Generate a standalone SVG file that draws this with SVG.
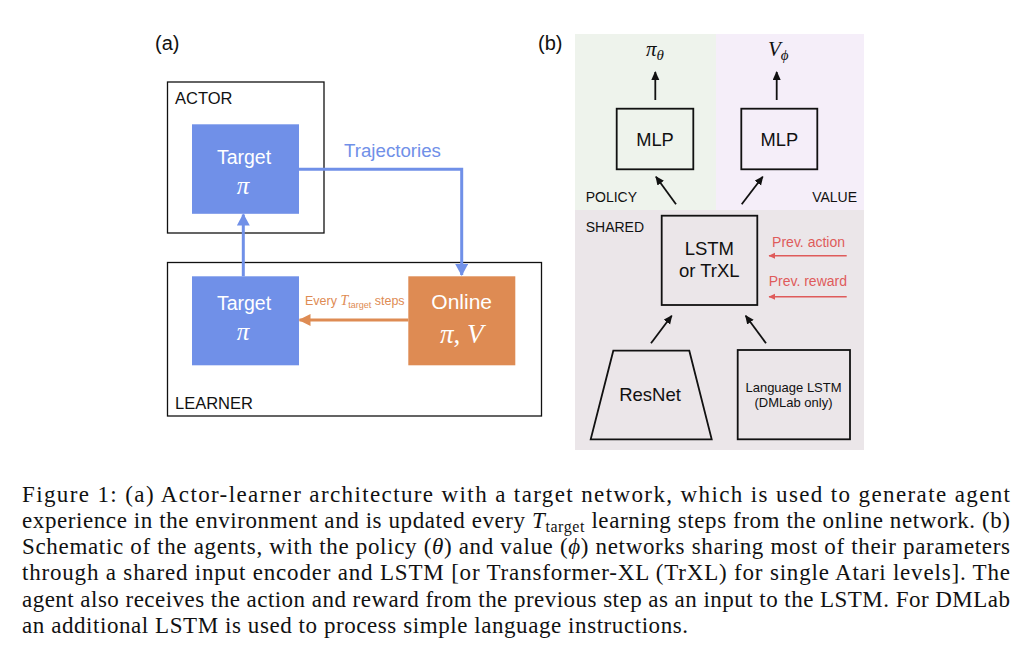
<svg xmlns="http://www.w3.org/2000/svg" width="1032" height="660" viewBox="0 0 1032 660">
<defs>
<style>
.sans{font-family:"Liberation Sans",Arial,sans-serif}
.serif{font-family:"Liberation Serif","Times New Roman",serif}
.frame{fill:none;stroke:#111;stroke-width:1.3}
.box{fill:none;stroke:#111;stroke-width:1.8}
.blk{stroke:#111;stroke-width:1.8;fill:none}
.blue{stroke:#7090e8;stroke-width:3;fill:none}
.orange{stroke:#de8b53;stroke-width:3;fill:none}
.red{stroke:#df5b5b;stroke-width:1.5;fill:none}
.wt{fill:#fff}
.cap{font-family:"Liberation Serif","Times New Roman",serif;font-size:23px;fill:#111}
</style>
<marker id="mBlue" markerUnits="userSpaceOnUse" markerWidth="14" markerHeight="14" refX="11" refY="6.5" orient="auto"><path d="M0,0 L12,6.5 L0,13 Z" fill="#7090e8"/></marker>
<marker id="mOrange" markerUnits="userSpaceOnUse" markerWidth="14" markerHeight="14" refX="11" refY="6" orient="auto"><path d="M0,0 L12,6 L0,12 Z" fill="#de8b53"/></marker>
<marker id="mBlack" markerUnits="userSpaceOnUse" markerWidth="10" markerHeight="10" refX="8" refY="4" orient="auto"><path d="M0,0 L9,4 L0,8 Z" fill="#111"/></marker>
<marker id="mRed" markerUnits="userSpaceOnUse" markerWidth="8" markerHeight="8" refX="6" refY="3" orient="auto"><path d="M0,0 L6.5,3 L0,6 Z" fill="#df5b5b"/></marker>
</defs>
<rect width="1032" height="660" fill="#fff"/>

<!-- Panel (a) -->
<text class="sans" x="155" y="50" font-size="20" fill="#111">(a)</text>
<g id="actor">
<rect class="frame" x="167.5" y="82" width="156.5" height="151"/>
<text class="sans" x="175" y="104" font-size="16.5" fill="#111">ACTOR</text>
</g>
<g id="learner">
<rect class="frame" x="167.5" y="262.5" width="374" height="153.5"/>
<text class="sans" x="175" y="408.5" font-size="16.5" fill="#111">LEARNER</text>
</g>
<g id="target-actor">
<rect x="192" y="124.3" width="107" height="89.5" fill="#7090e8"/>
<text class="sans wt" x="244" y="164" font-size="19.5" text-anchor="middle">Target</text>
<text class="serif wt" x="243" y="193.5" font-size="25" font-style="italic" text-anchor="middle">π</text>
</g>
<g id="target-learner">
<rect x="192" y="276.3" width="107" height="89" fill="#7090e8"/>
<text class="sans wt" x="244" y="310" font-size="19.5" text-anchor="middle">Target</text>
<text class="serif wt" x="243" y="339.5" font-size="25" font-style="italic" text-anchor="middle">π</text>
</g>
<g id="online">
<rect x="408.3" y="276.3" width="107" height="89" fill="#de8b53"/>
<text class="sans wt" x="461.7" y="309.3" font-size="21" text-anchor="middle">Online</text>
<text class="serif wt" x="461.7" y="343" font-size="27" text-anchor="middle"><tspan font-style="italic">π</tspan>, <tspan font-style="italic">V</tspan></text>
</g>

<!-- Panel (b) -->
<text class="sans" x="538" y="50" font-size="20" fill="#111">(b)</text>
<g id="regions">
<rect x="575" y="34" width="141" height="176" fill="#eef3ec"/>
<rect x="716" y="34" width="148" height="176" fill="#f5eef9"/>
<rect x="575" y="210" width="289" height="240" fill="#ebe6e9"/>
<text class="sans" x="585.7" y="201.7" font-size="14" fill="#111">POLICY</text>
<text class="sans" x="857" y="201.7" font-size="14" fill="#111" text-anchor="end">VALUE</text>
<text class="sans" x="585.7" y="231.7" font-size="14" fill="#111">SHARED</text>
</g>
<g id="mlp-policy">
<rect class="box" x="616.7" y="108.7" width="76.6" height="60.6"/>
<text class="sans" x="655" y="145.5" font-size="18.3" fill="#111" text-anchor="middle">MLP</text>
</g>
<g id="mlp-value">
<rect class="box" x="741.3" y="108.7" width="76" height="60.6"/>
<text class="sans" x="779.3" y="145.5" font-size="18.3" fill="#111" text-anchor="middle">MLP</text>
</g>
<g id="pi-theta">
<text class="serif" x="646" y="56" font-size="21" fill="#111" font-style="italic">π<tspan font-size="15" dy="4">θ</tspan></text>
</g>
<g id="v-phi">
<text class="serif" x="768" y="56" font-size="21" fill="#111" font-style="italic">V<tspan font-size="15" dy="4">ϕ</tspan></text>
</g>
<g id="lstm">
<rect class="box" x="661.7" y="215.7" width="95.6" height="89.3"/>
<text class="sans" x="709.3" y="255" font-size="18.5" fill="#111" text-anchor="middle">LSTM</text>
<text class="sans" x="709.3" y="276.7" font-size="18.5" fill="#111" text-anchor="middle">or TrXL</text>
</g>
<g id="resnet">
<path class="box" d="M613.3,350.7 L689.3,350.7 L711.7,439.3 L590.7,439.3 Z"/>
<text class="sans" x="650" y="400.5" font-size="18.5" fill="#111" text-anchor="middle">ResNet</text>
</g>
<g id="language-lstm">
<rect class="box" x="737.7" y="350" width="112.3" height="89.3"/>
<text class="sans" x="793.5" y="391.7" font-size="13" fill="#111" text-anchor="middle">Language LSTM</text>
<text class="sans" x="793.5" y="407" font-size="13" fill="#111" text-anchor="middle">(DMLab only)</text>
</g>
<g id="prev-labels">
<text class="sans" x="845" y="246.7" font-size="14" fill="#df5b5b" text-anchor="end">Prev. action</text>
<text class="sans" x="847" y="285.7" font-size="14" fill="#df5b5b" text-anchor="end">Prev. reward</text>
</g>

<g id="connectors">
<path class="blue" d="M299,169.3 H461.7 V275" marker-end="url(#mBlue)"/>
<text class="sans" x="344" y="157" font-size="18.7" fill="#7090e8">Trajectories</text>
<path class="blue" d="M243.3,276.3 V214.5" marker-end="url(#mBlue)"/>
<path class="orange" d="M408.3,320 H299.5" marker-end="url(#mOrange)"/>
<text class="sans" x="305" y="305" font-size="12.5" fill="#de8b53">Every <tspan class="serif" font-style="italic" font-size="14">T</tspan><tspan font-size="9" dy="3">target</tspan><tspan dy="-3"> steps</tspan></text>
<path class="blk" d="M655.3,100 V72" marker-end="url(#mBlack)"/>
<path class="blk" d="M776.7,100 V72" marker-end="url(#mBlack)"/>
<path class="blk" d="M676,204.3 L656,176.7" marker-end="url(#mBlack)"/>
<path class="blk" d="M741.7,204.3 L762.7,176.7" marker-end="url(#mBlack)"/>
<path class="blk" d="M651,343.3 L671.7,315.7" marker-end="url(#mBlack)"/>
<path class="blk" d="M766,343.3 L745.7,315.7" marker-end="url(#mBlack)"/>
<path class="red" d="M846.7,255.7 H769" marker-end="url(#mRed)"/>
<path class="red" d="M846.7,296.7 H769" marker-end="url(#mRed)"/>
</g>

<!-- Caption -->
<g id="caption">
<text class="cap" x="22" y="501.5" textLength="988" lengthAdjust="spacing">Figure 1: (a) Actor-learner architecture with a target network, which is used to generate agent</text>
<text class="cap" x="22" y="527.8" textLength="988" lengthAdjust="spacing">experience in the environment and is updated every <tspan font-style="italic">T</tspan><tspan font-size="16" dy="4">target</tspan><tspan dy="-4"> learning steps from the online network. (b)</tspan></text>
<text class="cap" x="22" y="554.1" textLength="988" lengthAdjust="spacing">Schematic of the agents, with the policy (<tspan font-style="italic">θ</tspan>) and value (<tspan font-style="italic">ϕ</tspan>) networks sharing most of their parameters</text>
<text class="cap" x="22" y="580.4" textLength="988" lengthAdjust="spacing">through a shared input encoder and LSTM [or Transformer-XL (TrXL) for single Atari levels]. The</text>
<text class="cap" x="22" y="606.7" textLength="988" lengthAdjust="spacing">agent also receives the action and reward from the previous step as an input to the LSTM. For DMLab</text>
<text class="cap" x="22" y="633" textLength="666" lengthAdjust="spacing">an additional LSTM is used to process simple language instructions.</text>
</g>
</svg>
